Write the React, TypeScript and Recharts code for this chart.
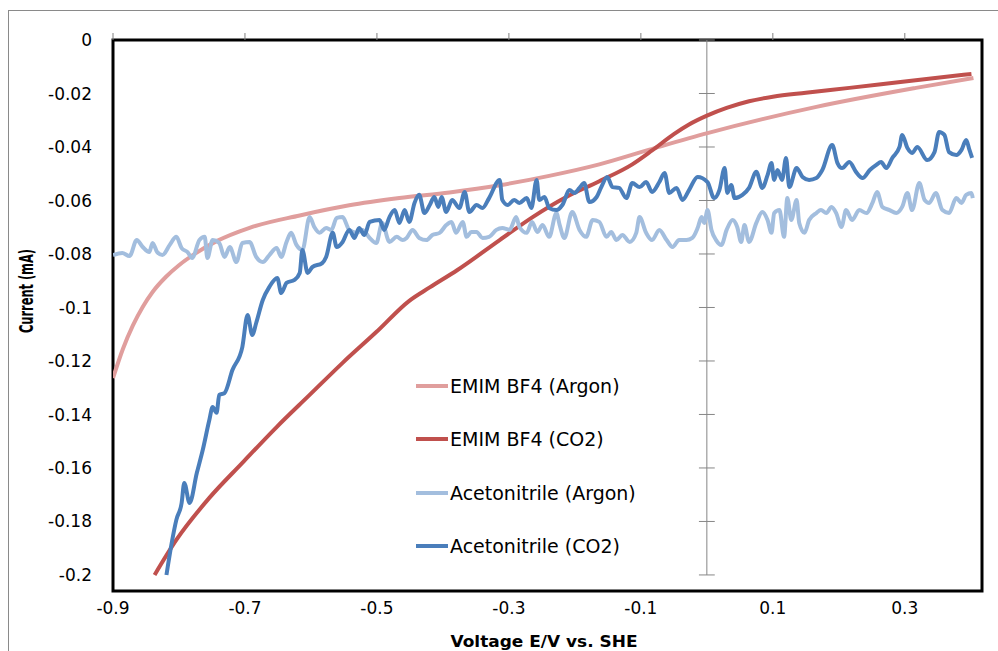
import { LineChart, Line, XAxis, YAxis, ReferenceLine, ReferenceArea } from 'recharts';

const FONT = '"DejaVu Sans", sans-serif';

const xTicks = [-0.9, -0.7, -0.5, -0.3, -0.1, 0.1, 0.3];
const yTicks = [0, -0.02, -0.04, -0.06, -0.08, -0.1, -0.12, -0.14, -0.16, -0.18, -0.2];

// [voltage E/V vs SHE, current mA]
const emimArgon: [number, number][] = [
  [-0.9, -0.1264], [-0.885, -0.1155], [-0.87, -0.1068], [-0.855, -0.0998], [-0.84, -0.0942],
  [-0.82, -0.0886], [-0.8, -0.0842], [-0.775, -0.0798], [-0.743, -0.0752], [-0.693, -0.0702],
  [-0.617, -0.0656], [-0.542, -0.0618], [-0.466, -0.0591], [-0.39, -0.057], [-0.314, -0.0543],
  [-0.239, -0.0508], [-0.163, -0.0465], [-0.087, -0.041], [0.001, -0.0348], [0.166, -0.025],
  [0.317, -0.0179], [0.404, -0.0142],
];

const emimCo2: [number, number][] = [
  [-0.837, -0.2], [-0.804, -0.1869], [-0.754, -0.1712], [-0.704, -0.1581], [-0.652, -0.1447],
  [-0.602, -0.1327], [-0.552, -0.1207], [-0.501, -0.1092], [-0.451, -0.0975], [-0.42, -0.0925],
  [-0.378, -0.086], [-0.314, -0.0748], [-0.264, -0.0662], [-0.213, -0.0587], [-0.163, -0.0528],
  [-0.113, -0.0465], [-0.083, -0.0413], [-0.05, -0.0352], [-0.027, -0.0316], [0.001, -0.0282],
  [0.03, -0.0254], [0.064, -0.0229], [0.1, -0.0212], [0.15, -0.0197], [0.216, -0.0179],
  [0.3, -0.0155], [0.401, -0.0127],
];

const acnArgon: [number, number][] = [
  [-0.9, -0.0804], [-0.886, -0.0796], [-0.875, -0.0808], [-0.864, -0.0748], [-0.855, -0.0774],
  [-0.845, -0.0793], [-0.84, -0.0759], [-0.833, -0.0793], [-0.825, -0.0804], [-0.814, -0.0766],
  [-0.804, -0.0736], [-0.796, -0.0778], [-0.787, -0.0793], [-0.78, -0.0815], [-0.769, -0.0748],
  [-0.761, -0.0736], [-0.757, -0.0815], [-0.749, -0.0748], [-0.739, -0.0759], [-0.731, -0.0811],
  [-0.723, -0.0774], [-0.713, -0.083], [-0.704, -0.0759], [-0.693, -0.0755], [-0.683, -0.0811],
  [-0.673, -0.083], [-0.663, -0.0804], [-0.652, -0.0778], [-0.645, -0.0811], [-0.637, -0.0755],
  [-0.63, -0.0721], [-0.622, -0.0766], [-0.613, -0.0785], [-0.602, -0.0662], [-0.595, -0.0699],
  [-0.587, -0.0721], [-0.577, -0.0703], [-0.569, -0.071], [-0.561, -0.0665], [-0.552, -0.0662],
  [-0.542, -0.071], [-0.531, -0.0721], [-0.522, -0.071], [-0.511, -0.074], [-0.501, -0.0759],
  [-0.492, -0.0684], [-0.481, -0.0755], [-0.47, -0.0736], [-0.461, -0.0748], [-0.455, -0.074],
  [-0.446, -0.071], [-0.436, -0.074], [-0.425, -0.0748], [-0.416, -0.0729], [-0.405, -0.0721],
  [-0.395, -0.0692], [-0.387, -0.068], [-0.38, -0.0721], [-0.37, -0.068], [-0.364, -0.0736],
  [-0.357, -0.0718], [-0.349, -0.0718], [-0.34, -0.074], [-0.33, -0.0736], [-0.319, -0.071],
  [-0.31, -0.0703], [-0.299, -0.071], [-0.289, -0.0662], [-0.284, -0.0699], [-0.273, -0.0721],
  [-0.265, -0.068], [-0.257, -0.0718], [-0.249, -0.0692], [-0.239, -0.0736], [-0.228, -0.0647],
  [-0.223, -0.0692], [-0.216, -0.074], [-0.204, -0.0643], [-0.193, -0.071], [-0.183, -0.0736],
  [-0.173, -0.0673], [-0.163, -0.068], [-0.152, -0.0736], [-0.145, -0.0718], [-0.137, -0.0748],
  [-0.128, -0.0729], [-0.117, -0.0755], [-0.107, -0.0721], [-0.102, -0.0662], [-0.092, -0.0721],
  [-0.083, -0.0748], [-0.072, -0.071], [-0.061, -0.0748], [-0.052, -0.0774], [-0.042, -0.0748],
  [-0.031, -0.0748], [-0.022, -0.074], [-0.014, -0.0703], [-0.008, -0.0662], [-0.004, -0.0684],
  [0.001, -0.0636], [0.007, -0.071], [0.014, -0.0748], [0.022, -0.0766], [0.03, -0.071],
  [0.039, -0.0673], [0.046, -0.0699], [0.052, -0.0755], [0.057, -0.0692], [0.064, -0.0755],
  [0.075, -0.0684], [0.084, -0.0643], [0.092, -0.0673], [0.098, -0.0721], [0.102, -0.0647],
  [0.11, -0.0636], [0.117, -0.0736], [0.122, -0.0591], [0.128, -0.0673], [0.136, -0.0598],
  [0.14, -0.0684], [0.148, -0.0721], [0.155, -0.0673], [0.166, -0.0647], [0.173, -0.0636],
  [0.181, -0.0647], [0.189, -0.0624], [0.196, -0.0647], [0.204, -0.0699], [0.211, -0.0636],
  [0.22, -0.0673], [0.231, -0.0636], [0.242, -0.0647], [0.251, -0.0609], [0.258, -0.0568],
  [0.266, -0.0624], [0.277, -0.0636], [0.287, -0.0647], [0.296, -0.0624], [0.304, -0.0572],
  [0.311, -0.0636], [0.322, -0.0535], [0.33, -0.0598], [0.337, -0.0609], [0.347, -0.0572],
  [0.357, -0.0636], [0.367, -0.0647], [0.378, -0.0591], [0.386, -0.0609], [0.393, -0.0579],
  [0.401, -0.0572], [0.403, -0.0591],
];

const acnCo2: [number, number][] = [
  [-0.819, -0.2], [-0.811, -0.188], [-0.804, -0.1794], [-0.796, -0.1731], [-0.792, -0.1656],
  [-0.784, -0.1731], [-0.773, -0.1619], [-0.764, -0.1533], [-0.754, -0.1421], [-0.749, -0.1372],
  [-0.743, -0.1394], [-0.739, -0.1327], [-0.731, -0.132], [-0.719, -0.1234], [-0.704, -0.1148],
  [-0.696, -0.1028], [-0.689, -0.1103], [-0.683, -0.1058], [-0.673, -0.0972], [-0.663, -0.0923],
  [-0.651, -0.089], [-0.645, -0.0946], [-0.637, -0.0908], [-0.625, -0.0897], [-0.617, -0.0871],
  [-0.613, -0.0785], [-0.605, -0.0871], [-0.598, -0.0849], [-0.583, -0.0834], [-0.577, -0.0811],
  [-0.567, -0.0721], [-0.561, -0.0774], [-0.552, -0.0755], [-0.542, -0.071], [-0.534, -0.074],
  [-0.527, -0.0703], [-0.519, -0.0729], [-0.511, -0.068], [-0.496, -0.0673], [-0.489, -0.071],
  [-0.481, -0.0662], [-0.473, -0.0636], [-0.466, -0.0684], [-0.458, -0.0636], [-0.451, -0.068],
  [-0.443, -0.0609], [-0.436, -0.0579], [-0.428, -0.0647], [-0.42, -0.0617], [-0.413, -0.0587],
  [-0.407, -0.0624], [-0.402, -0.0587], [-0.395, -0.0643], [-0.386, -0.0598], [-0.375, -0.0628],
  [-0.367, -0.0568], [-0.36, -0.0643], [-0.349, -0.0617], [-0.34, -0.0628], [-0.33, -0.0591],
  [-0.314, -0.0523], [-0.31, -0.0598], [-0.302, -0.0617], [-0.292, -0.0598], [-0.284, -0.0609],
  [-0.273, -0.0591], [-0.266, -0.0628], [-0.258, -0.0523], [-0.254, -0.0598], [-0.246, -0.0587],
  [-0.239, -0.0628], [-0.228, -0.0636], [-0.219, -0.0617], [-0.208, -0.0561], [-0.201, -0.0572],
  [-0.193, -0.0553], [-0.186, -0.0535], [-0.178, -0.0606], [-0.167, -0.0587], [-0.16, -0.055],
  [-0.151, -0.0512], [-0.143, -0.055], [-0.133, -0.0553], [-0.122, -0.0591], [-0.113, -0.0535],
  [-0.102, -0.055], [-0.092, -0.0531], [-0.083, -0.0568], [-0.072, -0.0531], [-0.064, -0.0497],
  [-0.057, -0.0572], [-0.046, -0.0553], [-0.037, -0.0598], [-0.027, -0.0561], [-0.014, -0.0512],
  [0.001, -0.0531], [0.011, -0.0591], [0.019, -0.0561], [0.027, -0.0479], [0.031, -0.0572],
  [0.037, -0.0542], [0.042, -0.0591], [0.054, -0.0579], [0.064, -0.0553], [0.075, -0.0493],
  [0.084, -0.0553], [0.092, -0.0505], [0.098, -0.046], [0.102, -0.0523], [0.107, -0.0486],
  [0.114, -0.0523], [0.12, -0.0441], [0.125, -0.055], [0.136, -0.0479], [0.145, -0.0512],
  [0.155, -0.0523], [0.166, -0.0516], [0.175, -0.0486], [0.19, -0.0393], [0.198, -0.046],
  [0.205, -0.0479], [0.216, -0.0456], [0.226, -0.0493], [0.236, -0.0516], [0.247, -0.0486],
  [0.257, -0.0467], [0.264, -0.0456], [0.272, -0.0479], [0.281, -0.0441], [0.292, -0.04],
  [0.296, -0.0355], [0.304, -0.0404], [0.311, -0.0422], [0.319, -0.04], [0.334, -0.0449],
  [0.345, -0.0419], [0.352, -0.0344], [0.36, -0.0355], [0.367, -0.0419], [0.378, -0.043],
  [0.386, -0.0411], [0.393, -0.0374], [0.398, -0.0411], [0.402, -0.0441],
];

const series = [
  { name: 'EMIM BF4 (Argon)', color: '#E09E9D', points: emimArgon },
  { name: 'EMIM BF4 (CO2)', color: '#C0504D', points: emimCo2 },
  { name: 'Acetonitrile (Argon)', color: '#A3BEDE', points: acnArgon },
  { name: 'Acetonitrile (CO2)', color: '#4A7EBB', points: acnCo2 },
];

const X_MIN = -0.9;
const X_MAX = 0.417;
const Y_MIN = -0.206;

export default function App() {
  return (
    <div style={{ position: 'absolute', left: 0, top: 0, width: 998, height: 651, overflow: 'hidden', background: '#fff' }}>
      <div style={{ position: 'absolute', left: 8, top: 10, width: 1020, height: 720, border: '1px solid #8a8a8a' }} />
      <div style={{ position: 'absolute', left: 0, top: 0 }}>
        <LineChart width={998} height={651} margin={{ top: 39, right: 16, bottom: 30, left: 0 }}>
          <XAxis
            xAxisId="b"
            type="number"
            dataKey="v"
            domain={[X_MIN, X_MAX]}
            ticks={xTicks}
            interval={0}
            allowDataOverflow
            orientation="bottom"
            height={30}
            axisLine={false}
            tickLine={false}
            tickSize={6}
            tickMargin={5}
            tick={{ fill: '#000', fontSize: 17, fontFamily: FONT }}
            tickFormatter={(v) => String(v)}
          />
          <XAxis
            xAxisId="t"
            type="number"
            dataKey="v"
            domain={[X_MIN, X_MAX]}
            ticks={xTicks}
            interval={0}
            allowDataOverflow
            orientation="top"
            height={1}
            axisLine={false}
            tickLine={{ stroke: '#808080' }}
            tickSize={7}
            tick={{ fill: 'none' }}
          />
          <YAxis
            type="number"
            domain={[Y_MIN, 0]}
            ticks={yTicks}
            interval={0}
            allowDataOverflow
            width={113}
            axisLine={false}
            tickLine={false}
            tickSize={6}
            tickMargin={15}
            tick={{ fill: '#000', fontSize: 17, fontFamily: FONT }}
            tickFormatter={(v) => String(v)}
          />
          <ReferenceLine
            xAxisId="b"
            segment={[{ x: 0, y: 0 }, { x: 0, y: -0.2 }]}
            stroke="#868686"
            strokeWidth={1}
          />
          {yTicks.map((t) => (
            <ReferenceLine
              key={t}
              xAxisId="b"
              segment={[{ x: -0.012, y: t }, { x: 0.012, y: t }]}
              stroke="#868686"
              strokeWidth={1}
            />
          ))}
          {series.map((s) => (
            <Line
              key={s.name}
              xAxisId="b"
              name={s.name}
              data={s.points.map(([v, i]) => ({ v, i }))}
              dataKey="i"
              type="monotone"
              stroke={s.color}
              strokeWidth={4}
              strokeLinejoin="round"
              dot={false}
              activeDot={false}
              isAnimationActive={false}
            />
          ))}
          <ReferenceArea
            xAxisId="b"
            x1={X_MIN}
            x2={X_MAX}
            y1={Y_MIN}
            y2={0}
            fill="none"
            stroke="#000"
            strokeWidth={3}
            ifOverflow="visible"
          />
        </LineChart>
      </div>
      <svg width={998} height={651} style={{ position: 'absolute', left: 0, top: 0, pointerEvents: 'none' }}>
        <text
          x={33}
          y={291}
          transform="rotate(-90 33 291)"
          textAnchor="middle"
          fontFamily={FONT}
          fontWeight="bold"
          fontSize={19}
          textLength={84}
          lengthAdjust="spacingAndGlyphs"
          fill="#000"
        >
          Current (mA)
        </text>
        <text
          x={544}
          y={647}
          textAnchor="middle"
          fontFamily={FONT}
          fontWeight="bold"
          fontSize={16.5}
          textLength={187}
          lengthAdjust="spacingAndGlyphs"
          fill="#000"
        >
          Voltage E/V vs. SHE
        </text>
      </svg>
      <div style={{ position: 'absolute', left: 416, top: 359, fontFamily: FONT, fontSize: 19, color: '#000' }}>
        {series.map((s) => (
          <div key={s.name} style={{ height: 53.5, display: 'flex', alignItems: 'center' }}>
            <div style={{ width: 32, height: 4, background: s.color, marginRight: 2 }} />
            <span>{s.name}</span>
          </div>
        ))}
      </div>
    </div>
  );
}
